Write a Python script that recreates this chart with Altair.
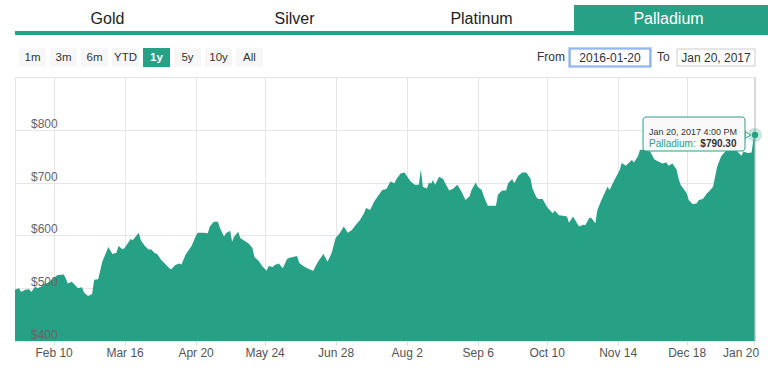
import altair as alt
import pandas as pd

# ---------------- data ----------------
dates = [
    "2016-01-22", "2016-01-24", "2016-01-25", "2016-01-27", "2016-01-29", "2016-01-30",
    "2016-02-01", "2016-02-02", "2016-02-04", "2016-02-05", "2016-02-07", "2016-02-10",
    "2016-02-12", "2016-02-15", "2016-02-16", "2016-02-17", "2016-02-19", "2016-02-21",
    "2016-02-22", "2016-02-24", "2016-02-25", "2016-02-27", "2016-02-29", "2016-03-01",
    "2016-03-03", "2016-03-05", "2016-03-08", "2016-03-10", "2016-03-12", "2016-03-13",
    "2016-03-15", "2016-03-16", "2016-03-19", "2016-03-20", "2016-03-23", "2016-03-24",
    "2016-03-26", "2016-03-28", "2016-03-29", "2016-03-31", "2016-04-01", "2016-04-03",
    "2016-04-04", "2016-04-06", "2016-04-07", "2016-04-08", "2016-04-10", "2016-04-12",
    "2016-04-13", "2016-04-15", "2016-04-16", "2016-04-18", "2016-04-20", "2016-04-21",
    "2016-04-24", "2016-04-26", "2016-04-27", "2016-04-29", "2016-05-01", "2016-05-02",
    "2016-05-04", "2016-05-05", "2016-05-07", "2016-05-08", "2016-05-09", "2016-05-11",
    "2016-05-12", "2016-05-14", "2016-05-16", "2016-05-18", "2016-05-19", "2016-05-21",
    "2016-05-23", "2016-05-25", "2016-05-26", "2016-05-28", "2016-05-29", "2016-05-31",
    "2016-06-02", "2016-06-04", "2016-06-05", "2016-06-07", "2016-06-09", "2016-06-10",
    "2016-06-12", "2016-06-15", "2016-06-17", "2016-06-19", "2016-06-20", "2016-06-22",
    "2016-06-24", "2016-06-26", "2016-06-28", "2016-06-30", "2016-07-02", "2016-07-04",
    "2016-07-06", "2016-07-08", "2016-07-10", "2016-07-12", "2016-07-13", "2016-07-15",
    "2016-07-17", "2016-07-20", "2016-07-21", "2016-07-23", "2016-07-25", "2016-07-27",
    "2016-07-28", "2016-07-30", "2016-08-01", "2016-08-02", "2016-08-04", "2016-08-06",
    "2016-08-08", "2016-08-09", "2016-08-10", "2016-08-12", "2016-08-13", "2016-08-14",
    "2016-08-15", "2016-08-16", "2016-08-18", "2016-08-20", "2016-08-21", "2016-08-23",
    "2016-08-25", "2016-08-27", "2016-08-29", "2016-08-31", "2016-09-02", "2016-09-03",
    "2016-09-05", "2016-09-06", "2016-09-08", "2016-09-09", "2016-09-11", "2016-09-13",
    "2016-09-15", "2016-09-16", "2016-09-18", "2016-09-20", "2016-09-21", "2016-09-23",
    "2016-09-24", "2016-09-26", "2016-09-28", "2016-09-30", "2016-10-02", "2016-10-03",
    "2016-10-05", "2016-10-06", "2016-10-08", "2016-10-10", "2016-10-11", "2016-10-13",
    "2016-10-14", "2016-10-16", "2016-10-18", "2016-10-20", "2016-10-21", "2016-10-23",
    "2016-10-24", "2016-10-26", "2016-10-28", "2016-10-29", "2016-10-31", "2016-11-01",
    "2016-11-03", "2016-11-04", "2016-11-06", "2016-11-09", "2016-11-10", "2016-11-12",
    "2016-11-15", "2016-11-16", "2016-11-18", "2016-11-21", "2016-11-22", "2016-11-24",
    "2016-11-25", "2016-11-27", "2016-11-29", "2016-11-30", "2016-12-02", "2016-12-04",
    "2016-12-06", "2016-12-08", "2016-12-09", "2016-12-11", "2016-12-13", "2016-12-14",
    "2016-12-15", "2016-12-18", "2016-12-19", "2016-12-21", "2016-12-23", "2016-12-24",
    "2016-12-26", "2016-12-28", "2016-12-29", "2016-12-31", "2017-01-02", "2017-01-04",
    "2017-01-06", "2017-01-08", "2017-01-11", "2017-01-12", "2017-01-14", "2017-01-15",
    "2017-01-17", "2017-01-19", "2017-01-20", "2017-01-20T16:00",
]
prices = [
    497, 500, 493, 497, 498, 493,
    503, 500, 503, 508, 510, 519,
    525, 526, 519, 509, 512, 504,
    500, 502, 492, 485, 489, 516,
    517, 550, 578, 565, 567, 580,
    574, 576, 593, 591, 605, 591,
    580, 573, 574, 566, 565, 554,
    550, 542, 538, 536, 544, 547,
    545, 563, 569, 580, 598, 605,
    605, 604, 617, 626, 626, 614,
    598, 604, 609, 588, 598, 607,
    595, 590, 585, 576, 559, 552,
    541, 533, 542, 540, 544, 547,
    538, 555, 557, 559, 561, 548,
    542, 536, 533, 548, 554, 565,
    550, 566, 595, 604, 617, 605,
    610, 620, 629, 642, 652, 648,
    664, 681, 686, 688, 702, 699,
    707, 717, 719, 713, 702, 696,
    696, 725, 692, 689, 700, 698,
    705, 696, 711, 707, 699, 685,
    689, 696, 683, 667, 674, 686,
    700, 692, 686, 674, 656, 656,
    656, 677, 685, 685, 699, 707,
    699, 713, 719, 719, 708, 689,
    672, 669, 669, 655, 650, 642,
    647, 638, 637, 636, 624, 636,
    629, 617, 620, 619, 633, 633,
    623, 648, 667, 692, 686, 702,
    724, 737, 732, 743, 738, 750,
    762, 762, 760, 759, 744, 740,
    736, 738, 732, 736, 725, 708,
    696, 680, 667, 659, 661, 667,
    669, 680, 683, 692, 730, 750,
    759, 762, 763, 759, 751, 759,
    756, 757, 786, 790.30,
]

x_tick_dates = ["2016-02-10", "2016-03-16", "2016-04-20", "2016-05-24", "2016-06-28",
                "2016-08-02", "2016-09-06", "2016-10-10", "2016-11-14", "2016-12-18",
                "2017-01-20"]
y_ticks = [400, 500, 600, 700, 800]
y_domain = [400, 900]
x_domain = ["2016-01-22", "2017-01-20T16:00"]

tabs = ["Gold", "Silver", "Platinum", "Palladium"]
selected_tab = "Palladium"
range_buttons = ["1m", "3m", "6m", "YTD", "1y", "5y", "10y", "All"]
selected_button = "1y"
from_label = "From"
from_value = "2016-01-20"
to_label = "To"
to_value = "Jan 20, 2017"
series_name = "Palladium"
hover_header = "Jan 20, 2017 4:00 PM"
hover_date = "2017-01-20T16:00"
hover_value = 790.30

# ---------------- helpers ----------------
GREEN = "#26a185"
FONT = "Liberation Sans, Arial, Helvetica, sans-serif"


def ms(s):
    ts = pd.Timestamp(s)
    if ts.tzinfo is None:
        ts = ts.tz_localize("UTC")
    return int(ts.value // 1_000_000)


df = pd.DataFrame({"t": [ms(d) for d in dates], "price": prices})

W, H = 740, 264
xscale = alt.Scale(type="utc", domain=[ms(d) for d in x_domain], nice=False)
yscale = alt.Scale(domain=y_domain, nice=False, zero=False)

one = pd.DataFrame({"a": [0]})

x_axis = alt.Axis(
    values=[ms(d) for d in x_tick_dates],
    labelExpr="utcFormat(datum.value, '%b %-d')",
    grid=True, gridColor="#e6e6e6", gridWidth=1,
    domain=False, ticks=True, tickSize=4, tickColor="#dcdcdc",
    labelColor="#555", labelFontSize=12, labelFont=FONT, labelPadding=2,
    labelFlush=5, labelFlushOffset=5, title=None,
)
y_axis = alt.Axis(values=y_ticks, labels=False, ticks=False, domain=False,
                  grid=True, gridColor="#e6e6e6", gridWidth=1, title=None)


def X(field):
    return alt.X(field, scale=xscale, axis=x_axis)


def Y(field):
    return alt.Y(field, scale=yscale, axis=y_axis)


area = alt.Chart(df).mark_area(color=GREEN, opacity=1).encode(
    x=X("t:T"),
    y=Y("price:Q"),
    y2=alt.datum(y_domain[0]),
)

ylab_df = pd.DataFrame({"price": y_ticks, "lbl": ["$" + str(v) for v in y_ticks]})
ylabels = alt.Chart(ylab_df).mark_text(
    align="left", baseline="alphabetic", dy=-2, fontSize=12, color="#666", font=FONT
).encode(
    x=alt.value(16),
    y=Y("price:Q"),
    text="lbl:N",
)

hover_df = pd.DataFrame({"t": [ms(hover_date)], "price": [hover_value]})
crosshair = alt.Chart(hover_df).mark_rule(color="#cccccc", strokeWidth=1).encode(
    x=X("t:T")
)
halo = alt.Chart(hover_df).mark_circle(size=200, color=GREEN, opacity=0.25).encode(
    x=X("t:T"), y=Y("price:Q"),
)
dot = alt.Chart(hover_df).mark_circle(size=40, color=GREEN, opacity=1).encode(
    x=X("t:T"), y=Y("price:Q"),
)

layers = [area, ylabels, crosshair, halo, dot]

# ---------------- tooltip ----------------
layers.append(
    alt.Chart(one).mark_point(shape="triangle-right", filled=True, fill="#f9f9f9",
                              stroke=GREEN, strokeWidth=1, size=45, opacity=1).encode(
        x=alt.value(733), y=alt.value(58))
)
layers.append(
    alt.Chart(one).mark_rect(fill="#f9f9f9", stroke=GREEN, strokeWidth=1,
                             cornerRadius=3).encode(
        x=alt.value(628), x2=alt.value(730), y=alt.value(40), y2=alt.value(74))
)
layers.append(
    alt.Chart(pd.DataFrame({"s": [hover_header]})).mark_text(
        align="left", baseline="middle", fontSize=9, color="#333", font=FONT).encode(
        x=alt.value(634), y=alt.value(55), text="s:N")
)
layers.append(
    alt.Chart(pd.DataFrame({"s": [series_name + ":"]})).mark_text(
        align="left", baseline="middle", fontSize=10, color=GREEN, font=FONT).encode(
        x=alt.value(634), y=alt.value(67), text="s:N")
)
layers.append(
    alt.Chart(pd.DataFrame({"s": ["$%.2f" % hover_value]})).mark_text(
        align="right", baseline="middle", fontSize=10, fontWeight="bold",
        color="#333", font=FONT).encode(
        x=alt.value(721.5), y=alt.value(67), text="s:N")
)

# ---------------- tabs ----------------
layers.append(
    alt.Chart(one).mark_rect(fill=GREEN).encode(
        x=alt.value(0), x2=alt.value(753), y=alt.value(-46), y2=alt.value(-42))
)
for i, name in enumerate(tabs):
    cx = 92.5 + 187 * i
    sel = name == selected_tab
    if sel:
        layers.append(
            alt.Chart(one).mark_rect(fill=GREEN).encode(
                x=alt.value(559), x2=alt.value(753), y=alt.value(-72), y2=alt.value(-44))
        )
    layers.append(
        alt.Chart(pd.DataFrame({"s": [name]})).mark_text(
            align="center", baseline="middle", fontSize=16, font=FONT,
            color="#ffffff" if sel else "#222222").encode(
            x=alt.value(cx), y=alt.value(-58), text="s:N")
    )

# ---------------- range buttons ----------------
for i, name in enumerate(range_buttons):
    x0 = 4 + 31 * i
    sel = name == selected_button
    layers.append(
        alt.Chart(one).mark_rect(fill=GREEN if sel else "#f7f7f7").encode(
            x=alt.value(x0), x2=alt.value(x0 + 27), y=alt.value(-29), y2=alt.value(-10))
    )
    layers.append(
        alt.Chart(pd.DataFrame({"s": [name]})).mark_text(
            align="center", baseline="middle", fontSize=11.5, font=FONT,
            fontWeight="bold" if sel else "normal",
            color="#ffffff" if sel else "#333333").encode(
            x=alt.value(x0 + 13.5), y=alt.value(-19.5), text="s:N")
    )

# ---------------- date inputs ----------------
layers.append(
    alt.Chart(pd.DataFrame({"s": [from_label]})).mark_text(
        align="right", baseline="middle", fontSize=12, font=FONT, color="#333").encode(
        x=alt.value(550), y=alt.value(-20), text="s:N")
)
layers.append(
    alt.Chart(one).mark_rect(fill="#ffffff", stroke="#bcd3f7", strokeWidth=4).encode(
        x=alt.value(555), x2=alt.value(635), y=alt.value(-28), y2=alt.value(-11))
)
layers.append(
    alt.Chart(one).mark_rect(fill="#ffffff", stroke="#6f9fe6", strokeWidth=1.2).encode(
        x=alt.value(555), x2=alt.value(635), y=alt.value(-28), y2=alt.value(-11))
)
layers.append(
    alt.Chart(pd.DataFrame({"s": [from_value]})).mark_text(
        align="center", baseline="middle", fontSize=12, font=FONT, color="#333").encode(
        x=alt.value(595), y=alt.value(-19.5), text="s:N")
)
layers.append(
    alt.Chart(pd.DataFrame({"s": [to_label]})).mark_text(
        align="left", baseline="middle", fontSize=12, font=FONT, color="#333").encode(
        x=alt.value(642), y=alt.value(-20), text="s:N")
)
layers.append(
    alt.Chart(one).mark_rect(fill="#ffffff", stroke="#cccccc", strokeWidth=1).encode(
        x=alt.value(662), x2=alt.value(740), y=alt.value(-28), y2=alt.value(-11))
)
layers.append(
    alt.Chart(pd.DataFrame({"s": [to_value]})).mark_text(
        align="center", baseline="middle", fontSize=12, font=FONT, color="#333").encode(
        x=alt.value(701), y=alt.value(-19.5), text="s:N")
)

chart = alt.layer(*layers).properties(
    width=W, height=H,
    padding={"left": 15, "top": 77, "right": 13, "bottom": 35},
    autosize=alt.AutoSizeParams(type="none"),
    background="#ffffff",
).configure_view(stroke="#e6e6e6")

chart.save("out.html", embed_options={"renderer": "svg", "actions": False})
